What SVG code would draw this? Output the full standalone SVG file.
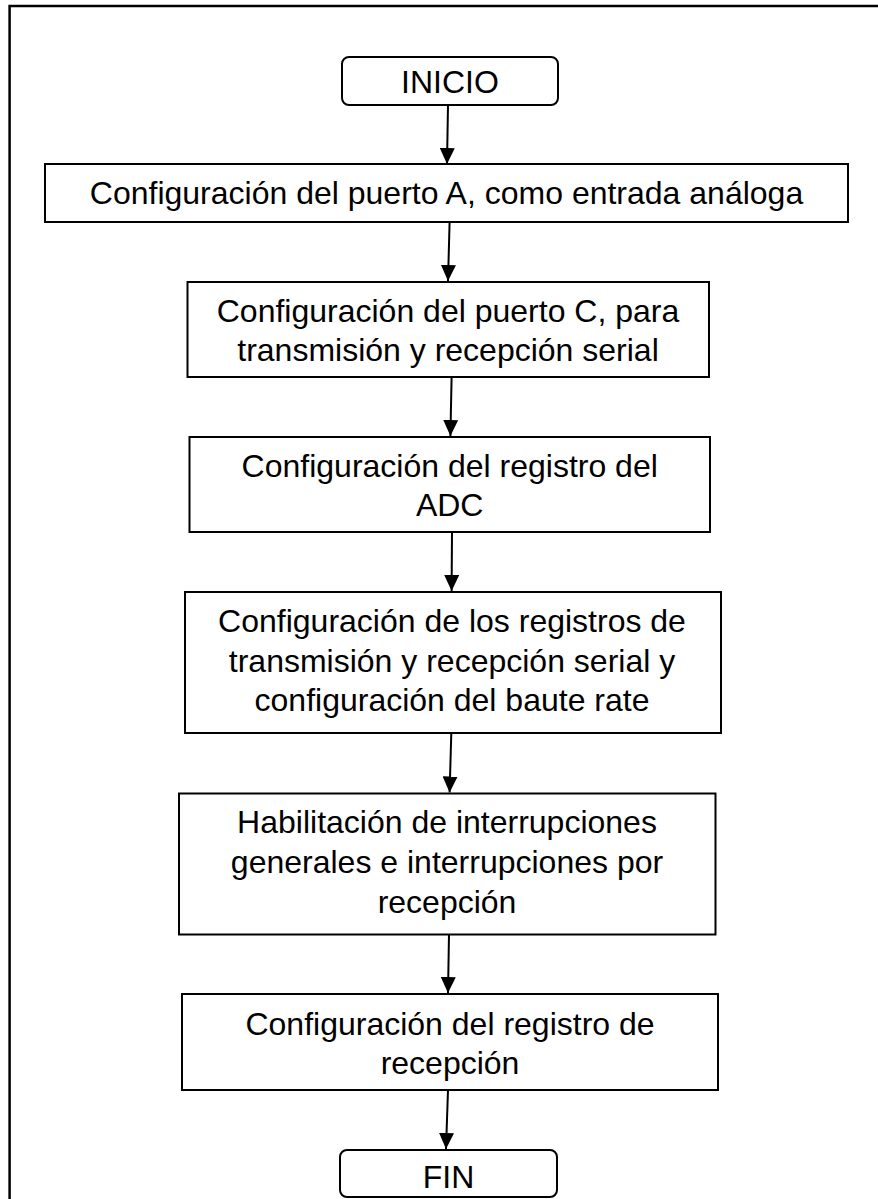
<svg xmlns="http://www.w3.org/2000/svg" width="878" height="1199" viewBox="0 0 878 1199">
<style>
.box{fill:#fff;stroke:#000;stroke-width:2}
.t{font-family:"Liberation Sans",Arial,Helvetica,sans-serif;font-size:32px;fill:#000;text-anchor:middle}
.c{stroke:#000;stroke-width:2;fill:none;marker-end:url(#ah)}
</style>
<defs>
<marker id="ah" markerUnits="userSpaceOnUse" markerWidth="16" markerHeight="15" refX="16" refY="7.5" orient="auto" viewBox="0 0 16 15">
<path d="M0,0 L16,7.5 L0,15 z" fill="#000"/>
</marker>
</defs>
<rect width="878" height="1199" fill="#fff"/>
<path d="M9.6,1199 V6 H878" fill="none" stroke="#000" stroke-width="2.5"/>
<g id="connectors">
<path class="c" d="M448,105 L447,164"/>
<path class="c" d="M449.6,222 L448,281"/>
<path class="c" d="M451.6,377 L450.4,436"/>
<path class="c" d="M452,532 L451.6,591"/>
<path class="c" d="M451.3,733 L449.6,792.5"/>
<path class="c" d="M449,934.5 L448,993"/>
<path class="c" d="M448,1090 L446,1149"/>
</g>
<g id="inicio">
<rect class="box" x="342" y="57" width="216" height="48" rx="7"/>
<text class="t" x="450" y="93">INICIO</text>
</g>
<g id="puertoA">
<rect class="box" x="45" y="164" width="803" height="58"/>
<text class="t" x="446.5" y="204">Configuración del puerto A, como entrada análoga</text>
</g>
<g id="puertoC">
<rect class="box" x="187.5" y="282" width="521.5" height="95"/>
<text class="t" x="448" y="321.5">Configuración del puerto C, para</text>
<text class="t" x="448" y="361">transmisión y recepción serial</text>
</g>
<g id="adc">
<rect class="box" x="189.5" y="437" width="520.5" height="95"/>
<text class="t" x="449.7" y="476.7">Configuración del registro del</text>
<text class="t" x="449.7" y="515.7">ADC</text>
</g>
<g id="registros">
<rect class="box" x="185" y="592" width="536" height="141"/>
<text class="t" x="452" y="631.7">Configuración de los registros de</text>
<text class="t" x="452" y="671.5">transmisión y recepción serial y</text>
<text class="t" x="452" y="711">configuración del baute rate</text>
</g>
<g id="habilitacion">
<rect class="box" x="179" y="793.5" width="536.5" height="141"/>
<text class="t" x="447" y="833">Habilitación de interrupciones</text>
<text class="t" x="447" y="873">generales e interrupciones por</text>
<text class="t" x="447" y="913">recepción</text>
</g>
<g id="recepcion">
<rect class="box" x="182" y="994" width="536" height="96"/>
<text class="t" x="450" y="1035">Configuración del registro de</text>
<text class="t" x="450" y="1074">recepción</text>
</g>
<g id="fin">
<rect class="box" x="340" y="1150" width="217" height="47" rx="7"/>
<text class="t" x="448.5" y="1188">FIN</text>
</g>
</svg>
